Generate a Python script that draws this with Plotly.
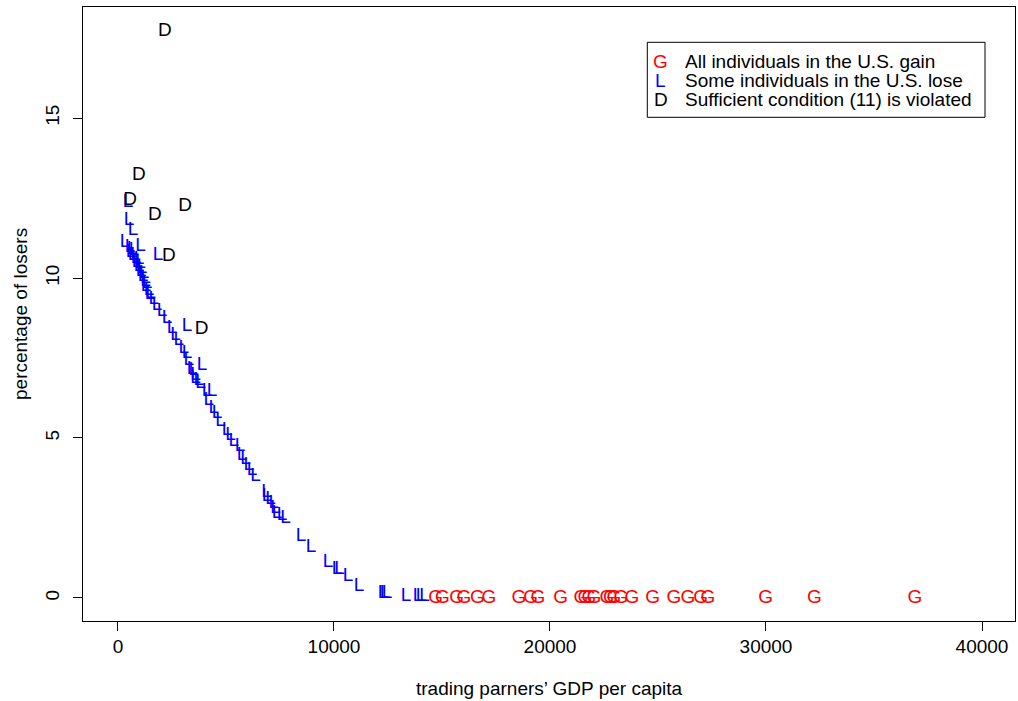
import plotly.graph_objects as go

# ---------------- data ----------------
# "L" points: some individuals in the U.S. lose
L_x = [463, 509, 694, 324, 1042, 1852,
       556, 648, 602, 741, 694, 810, 833, 972, 880, 1042, 972, 1111, 1065, 1204,
       1157, 1273, 1343, 1296, 1435, 1481,
       1273, 1505, 1657, 1810, 2042, 2273, 2505, 2662, 2815, 3046, 3199, 3278,
       3194, 3889, 3509, 3588, 3741,
       3431, 3588, 3819, 4125, 4356, 4204, 4435, 4588, 4745, 5051, 5208, 5361,
       5648, 5745, 5903, 6056, 6208, 6366,
       6875, 6903, 7060, 7213, 7292, 7366, 7597, 7755,
       8472, 8935, 9722, 10139, 10255, 10648, 11157,
       12268, 12361, 12454, 13333, 13889, 14028, 14190]
L_y = [12.36, 11.81, 11.48, 11.11, 11.00, 10.72,
       10.97, 10.91, 10.81, 10.88, 10.72, 10.72, 10.63, 10.59, 10.50, 10.47, 10.38, 10.31, 10.22, 10.16,
       10.06, 10.00, 9.84, 9.75, 9.63, 9.50,
       9.89, 9.53, 9.34, 9.16, 8.95, 8.74, 8.43, 8.22, 8.07, 7.81, 7.65, 7.44,
       8.48, 7.28, 7.13, 6.97, 6.82,
       7.15, 6.87, 6.71, 6.45, 6.45, 6.19, 5.93, 5.78, 5.52, 5.25, 5.10, 4.89,
       4.75, 4.47, 4.32, 4.16, 4.00, 3.80,
       3.31, 3.17, 3.07, 2.96, 2.81, 2.65, 2.57, 2.49,
       1.92, 1.59, 1.11, 0.91, 0.89, 0.67, 0.38,
       0.16, 0.16, 0.16, 0.05, 0.05, 0.05, 0.05]

# "G" points: all individuals in the U.S. gain
G_x = [14708, 15014, 15681, 16019, 16634, 17176,
       18565, 19106, 19444, 20495,
       21435, 21620, 21806, 22037, 22639, 22800, 22963, 23287, 23796,
       24755, 25741, 26389, 26977, 27315,
       29986, 32236, 36898]
G_y = [0, 0, 0, 0, 0, 0,
       0, 0, 0, 0,
       0, 0, 0, 0, 0, 0, 0, 0, 0,
       0, 0, 0, 0, 0,
       0, 0, 0]

# "D" points: sufficient condition (11) is violated
D_x = [2176, 972, 556, 1713, 3102, 2361, 3866]
D_y = [17.72, 13.22, 12.44, 11.97, 12.25, 10.69, 8.41]

x_ticks = [0, 10000, 20000, 30000, 40000]
x_tick_labels = ["0", "10000", "20000", "30000", "40000"]
y_ticks = [0, 5, 10, 15]
y_tick_labels = ["0", "5", "10", "15"]

legend_symbols = ["G", "L", "D"]
legend_labels = ["All individuals in the U.S. gain",
                 "Some individuals in the U.S. lose",
                 "Sufficient condition (11) is violated"]
legend_colors = ["#FF0000", "#0000FF", "#000000"]

x_title = "trading parners\u2019 GDP per capita"
y_title = "percentage of losers"

# ---------------- layout helpers ----------------
W, H = 1018, 701
PL, PR, PT, PB = 83, 1015, 7, 621
FONT = "Liberation Sans, Arial, Helvetica, sans-serif"
FS = 19


def pxx(x):
    return (x - PL) / (PR - PL)


def pxy(y):
    return (PB - y) / (PB - PT)


fig = go.Figure()

for xs, ys, sym, col in [(L_x, L_y, "L", "#0000FF"),
                         (G_x, G_y, "G", "#FF0000"),
                         (D_x, D_y, "D", "#000000")]:
    fig.add_trace(go.Scatter(
        x=xs, y=ys, mode="text", text=[sym] * len(xs),
        textposition="middle center",
        textfont=dict(family=FONT, size=FS, color=col),
        showlegend=False, hoverinfo="x+y"))

annotations = []
# axis titles
annotations.append(dict(x=pxx(549), y=pxy(688), xref="paper", yref="paper",
                        text=x_title, showarrow=False, xanchor="center", yanchor="middle",
                        font=dict(family=FONT, size=FS, color="black")))
annotations.append(dict(x=pxx(20), y=pxy(314), xref="paper", yref="paper",
                        text=y_title, showarrow=False, xanchor="center", yanchor="middle",
                        textangle=-90,
                        font=dict(family=FONT, size=FS, color="black")))
# legend
rows_y = [61.7, 80.5, 99.5]
for sym, lab, col, ry in zip(legend_symbols, legend_labels, legend_colors, rows_y):
    annotations.append(dict(x=pxx(660.7), y=pxy(ry), xref="paper", yref="paper",
                            text=sym, showarrow=False, xanchor="center", yanchor="middle",
                            font=dict(family=FONT, size=FS, color=col)))
    annotations.append(dict(x=pxx(682.7), y=pxy(ry), xref="paper", yref="paper",
                            text=lab, showarrow=False, xanchor="left", yanchor="middle",
                            font=dict(family=FONT, size=FS, color="black")))

shapes = [dict(type="rect", xref="paper", yref="paper",
               x0=pxx(647.3), x1=pxx(985), y0=pxy(117.3), y1=pxy(42.3),
               line=dict(color="black", width=1), fillcolor="rgba(0,0,0,0)")]

axis_common = dict(showline=True, mirror=True, linecolor="black", linewidth=1,
                   ticks="outside", ticklen=9, tickcolor="black", tickwidth=1,
                   showgrid=False, zeroline=False,
                   tickfont=dict(family=FONT, size=FS, color="black"))

fig.update_layout(
    width=W, height=H,
    margin=dict(l=PL, r=W - PR, t=PT, b=H - PB, autoexpand=False),
    paper_bgcolor="white", plot_bgcolor="white",
    xaxis=dict(range=[-1620, 41528], tickvals=x_ticks, ticktext=x_tick_labels,
               ticklabelstandoff=-1, **axis_common),
    yaxis=dict(range=[-0.72, 18.47], tickvals=y_ticks, ticktext=y_tick_labels,
               tickangle=-90, ticklabelstandoff=6, **axis_common),
    annotations=annotations, shapes=shapes,
    showlegend=False,
)

fig.write_html("out.html",
               config={"displayModeBar": False},
               post_script="document.body.style.margin='0';"
                           "document.body.style.overflow='hidden';")
